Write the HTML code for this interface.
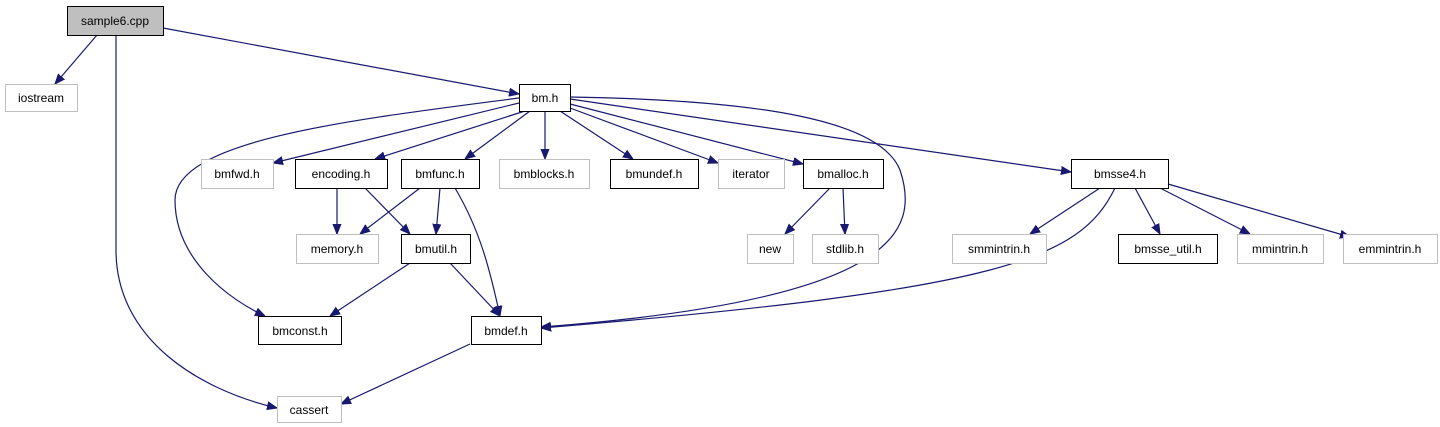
<!DOCTYPE html>
<html><head><meta charset="utf-8"><style>
html,body{margin:0;padding:0;background:#fff;}
svg{display:block;}
text{font-family:"Liberation Sans",Arial,sans-serif;font-size:12px;fill:#000;}
</style></head><body>
<svg width="1440" height="427" viewBox="0 0 1440 427" xmlns="http://www.w3.org/2000/svg">
<defs>
<marker id="a" viewBox="0 0 10 10" refX="10" refY="5" markerWidth="10" markerHeight="10" markerUnits="userSpaceOnUse" orient="auto">
<path d="M0,1 L10,5 L0,9 z" fill="#191970" stroke="#191970"/>
</marker>
</defs>
<g fill="none" stroke="#191970" stroke-width="1.2" marker-end="url(#a)">
<path d="M97,35 L55,84"/>
<path d="M163,28 L519,94"/>
<path d="M116,35 L116,250 C116,340 200,390 277,408"/>
<path d="M519,103 L273,163"/>
<path d="M525,111 L375,159"/>
<path d="M530,111 L465,159"/>
<path d="M545,111 L545,159"/>
<path d="M560,111 L633,159"/>
<path d="M570,108 L718,163"/>
<path d="M570,104 L803,164"/>
<path d="M570,99 L1071,172"/>
<path d="M519,98 C350,120 175,140 175,200 C175,260 230,300 265,316"/>
<path d="M570,97 C760,100 880,120 900,170 C920,230 900,300 541,327"/>
<path d="M337,188 L337,234"/>
<path d="M365,188 L410,234"/>
<path d="M420,188 L360,234"/>
<path d="M440,188 L436,234"/>
<path d="M455,188 C480,230 490,270 500,316"/>
<path d="M830,188 L785,234"/>
<path d="M843,188 L845,234"/>
<path d="M1100,188 L1030,234"/>
<path d="M1135,188 L1160,234"/>
<path d="M1160,188 L1250,234"/>
<path d="M1168,184 L1350,237"/>
<path d="M1115,188 C1080,260 1000,290 541,328"/>
<path d="M410,263 L330,316"/>
<path d="M450,263 L500,316"/>
<path d="M470,344 L341,404"/>
</g>
<g stroke-width="1" text-anchor="middle">
<rect x="67.5" y="6.5" width="96" height="29" fill="#bfbfbf" stroke="#000"/><text x="115" y="25">sample6.cpp</text>
<rect x="5.5" y="84.5" width="72" height="27" fill="#fff" stroke="#bfbfbf"/><text x="41" y="102">iostream</text>
<rect x="519.5" y="84.5" width="51" height="27" fill="#fff" stroke="#000"/><text x="545" y="102">bm.h</text>
<rect x="201.5" y="159.5" width="72" height="29" fill="#fff" stroke="#bfbfbf"/><text x="237" y="178">bmfwd.h</text>
<rect x="295.5" y="159.5" width="92" height="29" fill="#fff" stroke="#000"/><text x="341" y="178">encoding.h</text>
<rect x="401.5" y="159.5" width="78" height="29" fill="#fff" stroke="#000"/><text x="440" y="178">bmfunc.h</text>
<rect x="499.5" y="159.5" width="90" height="29" fill="#fff" stroke="#bfbfbf"/><text x="544" y="178">bmblocks.h</text>
<rect x="610.5" y="159.5" width="88" height="29" fill="#fff" stroke="#000"/><text x="654" y="178">bmundef.h</text>
<rect x="718.5" y="159.5" width="66" height="29" fill="#fff" stroke="#bfbfbf"/><text x="751" y="178">iterator</text>
<rect x="803.5" y="159.5" width="80" height="29" fill="#fff" stroke="#000"/><text x="843" y="178">bmalloc.h</text>
<rect x="1071.5" y="159.5" width="97" height="29" fill="#fff" stroke="#000"/><text x="1120" y="178">bmsse4.h</text>
<rect x="296.5" y="234.5" width="82" height="29" fill="#fff" stroke="#bfbfbf"/><text x="337" y="253">memory.h</text>
<rect x="401.5" y="234.5" width="69" height="29" fill="#fff" stroke="#000"/><text x="436" y="253">bmutil.h</text>
<rect x="747.5" y="234.5" width="46" height="29" fill="#fff" stroke="#bfbfbf"/><text x="770" y="253">new</text>
<rect x="812.5" y="234.5" width="66" height="29" fill="#fff" stroke="#bfbfbf"/><text x="845" y="253">stdlib.h</text>
<rect x="952.5" y="234.5" width="94" height="29" fill="#fff" stroke="#bfbfbf"/><text x="999" y="253">smmintrin.h</text>
<rect x="1118.5" y="234.5" width="99" height="29" fill="#fff" stroke="#000"/><text x="1168" y="253">bmsse_util.h</text>
<rect x="1237.5" y="234.5" width="86" height="29" fill="#fff" stroke="#bfbfbf"/><text x="1280" y="253">mmintrin.h</text>
<rect x="1343.5" y="234.5" width="94" height="29" fill="#fff" stroke="#bfbfbf"/><text x="1390" y="253">emmintrin.h</text>
<rect x="258.5" y="316.5" width="83" height="28" fill="#fff" stroke="#000"/><text x="300" y="335">bmconst.h</text>
<rect x="471.5" y="316.5" width="70" height="28" fill="#fff" stroke="#000"/><text x="506" y="335">bmdef.h</text>
<rect x="277.5" y="396.5" width="64" height="26" fill="#fff" stroke="#bfbfbf"/><text x="309" y="414">cassert</text>
</g>
</svg>
</body></html>
